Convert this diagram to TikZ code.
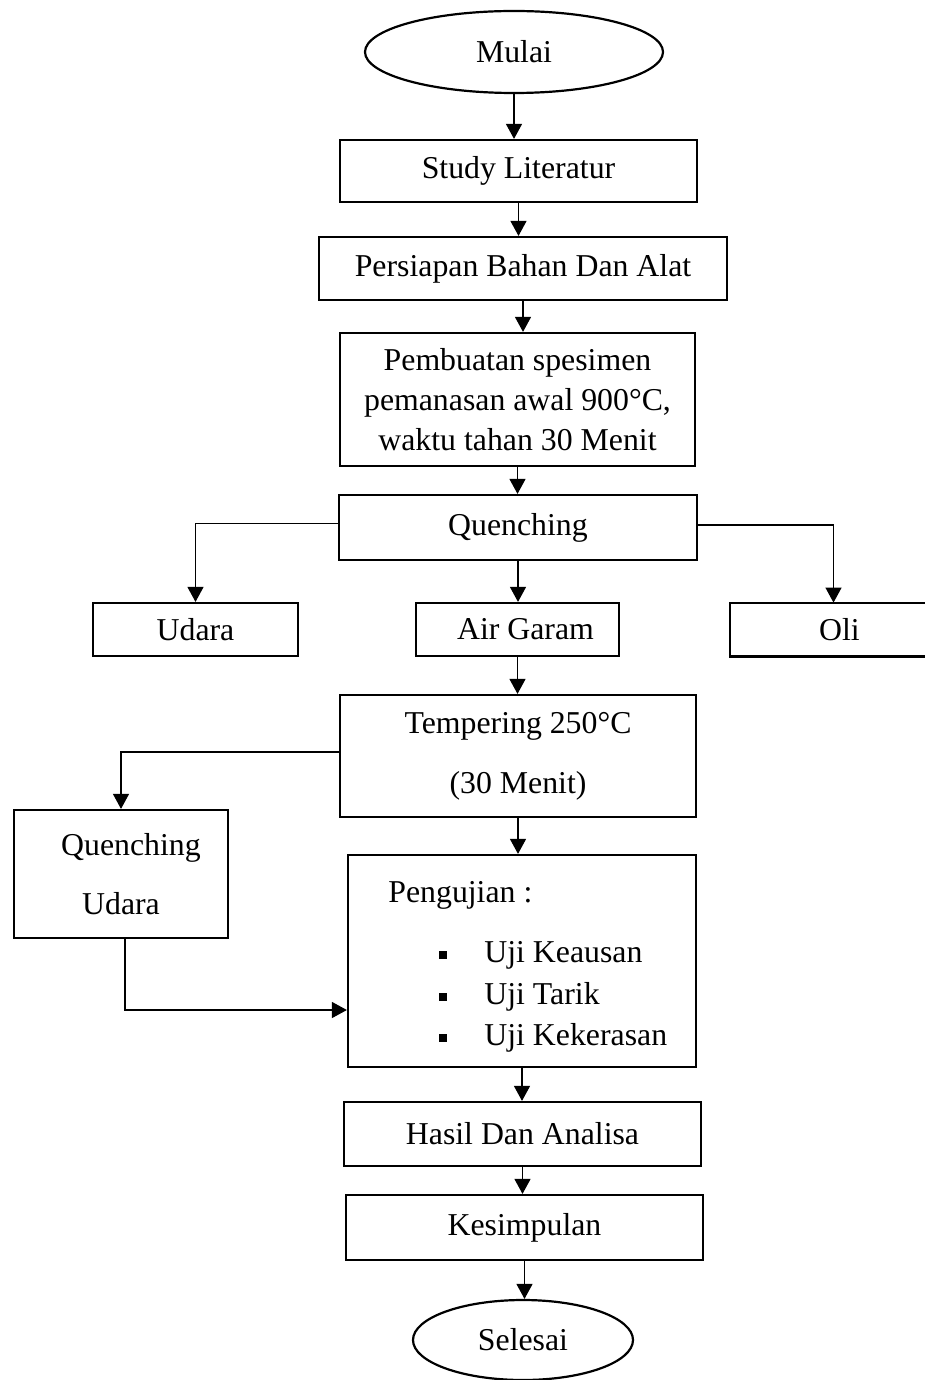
\documentclass[tikz,border=0pt]{standalone}
\usepackage{fontspec}
\setmainfont{Liberation Serif}
\usetikzlibrary{shapes.geometric,arrows.meta}
\begin{document}
\begin{tikzpicture}[x=0.5pt,y=-0.5pt,
  every node/.style={font=\fontsize{15.9}{20}\selectfont, inner sep=0pt},
  boxnode/.style={draw, line width=1.1pt, rectangle, align=center},
  ovalnode/.style={draw, line width=1.1pt, ellipse},
  arr/.style={line width=0.6pt, -{Triangle[length=7.5pt,width=8pt]}},
  bulletsq/.style={fill=black, minimum size=4.2pt, inner sep=0pt, rectangle}]
\useasboundingbox (0,0) rectangle (925,1380);
\fill[white] (0,0) rectangle (925,1380);

\node[ovalnode, minimum width=149pt, minimum height=41pt] (mulai) at (514,52) {Mulai};
\node[boxnode, minimum width=178.5pt, minimum height=31pt] (study) at (518.5,171) {Study Literatur};
\node[boxnode, minimum width=204pt, minimum height=31.5pt] (persiapan) at (523,268.5) {Persiapan Bahan Dan Alat};
\node[boxnode, minimum width=177.5pt, minimum height=66.5pt] (pembuatan) at (517.5,399.5) {Pembuatan spesimen\\pemanasan awal 900°C,\\waktu tahan 30 Menit};
\node[boxnode, minimum width=179pt, minimum height=32.5pt] (quench) at (518,527.5) {Quenching};
\node[boxnode, minimum width=102.5pt, minimum height=26.5pt] (udara) at (195.5,629.5) {Udara};
\node[boxnode, minimum width=101.5pt, minimum height=26.5pt] (airgaram) at (517.5,629.5) {\hspace{8pt}Air Garam};
\node[minimum width=97.5pt, minimum height=26.5pt] (oli) at (827.5,629.5) {\hspace{12pt}Oli};
\draw[line width=1.1pt] (oli.north east) -- (oli.north west) -- (oli.south west) -- (oli.south east);
\node[boxnode, minimum width=178pt, minimum height=61pt, font=\fontsize{15.9}{30}\selectfont] (tempering) at (518,756) {Tempering 250°C\\(30 Menit)};
\node[boxnode, minimum width=107pt, minimum height=64pt, font=\fontsize{15.9}{29.5}\selectfont] (qudara) at (121,874) {\hspace{10pt}Quenching\\Udara};
\node[boxnode, minimum width=174pt, minimum height=106pt] (pengujian) at (522,961) {};
\node[anchor=west] (pengtitle) at (388,895) {Pengujian :};
\node[bulletsq] (b1) at (443,955) {};
\node[bulletsq] (b2) at (443,997) {};
\node[bulletsq] (b3) at (443,1038) {};
\node[anchor=west] (u1) at (484,955) {Uji Keausan};
\node[anchor=west] (u2) at (484,997) {Uji Tarik};
\node[anchor=west] (u3) at (484,1038) {Uji Kekerasan};
\node[boxnode, minimum width=178.5pt, minimum height=32pt] (hasil) at (522.5,1134) {Hasil Dan Analisa};
\node[boxnode, minimum width=178.5pt, minimum height=32.5pt] (kesimpulan) at (524.5,1227.5) {Kesimpulan};
\node[ovalnode, minimum width=110pt, minimum height=40pt] (selesai) at (523,1340) {Selesai};

\draw[arr] (mulai.south) -- (mulai.south |- study.north);
\draw[arr] (study.south) -- (study.south |- persiapan.north);
\draw[arr] (persiapan.south) -- (persiapan.south |- pembuatan.north);
\draw[arr] (pembuatan.south) -- (pembuatan.south |- quench.north);
\draw[arr] ([yshift=2pt]quench.west) -| (udara.north);
\draw[arr] (quench.south) -- (quench.south |- airgaram.north);
\draw[arr] ([yshift=1.25pt]quench.east) -| ([xshift=3pt]oli.north);
\draw[arr] (airgaram.south) -- (airgaram.south |- tempering.north);
\draw[arr] ([yshift=2pt]tempering.west) -| (qudara.north);
\draw[arr] (tempering.south) -- (tempering.south |- pengujian.north);
\draw[arr] ([xshift=2pt]qudara.south) |- ([yshift=-24.5pt]pengujian.west);
\draw[arr] (pengujian.south) -- (pengujian.south |- hasil.north);
\draw[arr] (hasil.south) -- (hasil.south |- kesimpulan.north);
\draw[arr] (kesimpulan.south) -- (kesimpulan.south |- selesai.north);
\end{tikzpicture}
\end{document}
